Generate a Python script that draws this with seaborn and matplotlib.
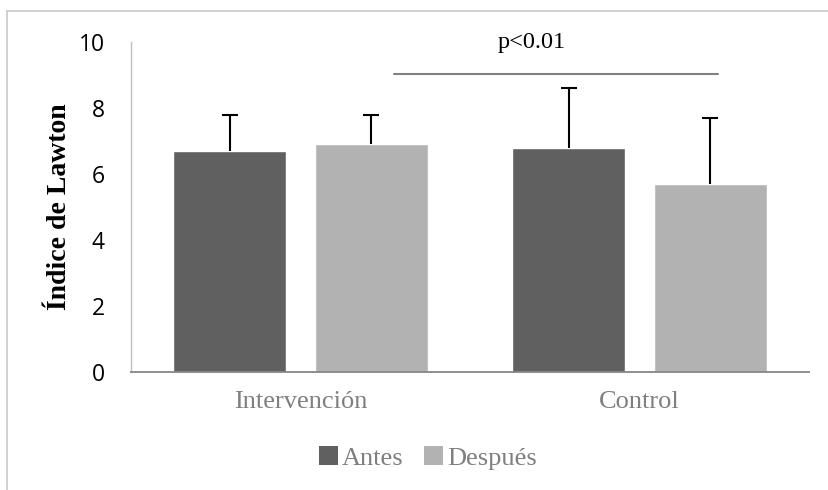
import matplotlib
matplotlib.use("Agg")
import matplotlib.pyplot as plt
from matplotlib.lines import Line2D
from matplotlib.patches import Patch
import seaborn as sns
import pandas as pd
import numpy as np

# Data
groups = ["Intervención", "Control"]
periods = ["Antes", "Después"]
antes_mean = [6.7, 6.8]
despues_mean = [6.9, 5.7]
antes_sd = [1.1, 1.8]
despues_sd = [0.9, 2.0]
y_ticks = [0, 2, 4, 6, 8, 10]
p_label = "p<0.01"

colors = {"Antes": "#606060", "Después": "#b2b2b2"}

df = pd.DataFrame({
    "grupo": groups * 2,
    "periodo": ["Antes"] * 2 + ["Después"] * 2,
    "valor": antes_mean + despues_mean,
    "sd": antes_sd + despues_sd,
})

sns.set_style("white")
plt.rcParams["font.family"] = ["Open Sans", "DejaVu Sans"]

fig = plt.figure(figsize=(8.29, 4.90), dpi=100)
ax = fig.add_axes([131 / 829, 1 - 372 / 490, 678 / 829, 330 / 490])

sns.barplot(data=df, x="grupo", y="valor", hue="periodo", order=groups,
            hue_order=periods, palette=colors, width=0.834, gap=0.2,
            errorbar=None, legend=False, ax=ax, saturation=1)

# upper-only error bars, aligned with each drawn bar
for container, per in zip(ax.containers, periods):
    sub = df[df["periodo"] == per].set_index("grupo").loc[groups]
    xs = [b.get_x() + b.get_width() / 2 for b in container]
    sd = sub["sd"].values
    eb = ax.errorbar(xs, sub["valor"].values, yerr=[np.zeros_like(sd), sd],
                     fmt="none", ecolor="black", elinewidth=1.5, capsize=6,
                     capthick=1.5, zorder=3)
    # hide the cap at the bar top (lower end)
    eb[1][0].set_visible(False)

ax.set_ylim(0, 10)
ax.set_xlim(-0.5, 1.5)
ax.set_yticks(y_ticks)
ax.set_yticklabels([str(t) for t in y_ticks], fontsize=16.5, color="black")
ax.tick_params(axis="y", length=0, pad=19)
ax.tick_params(axis="x", length=0, pad=14)
for lbl in ax.get_xticklabels():
    lbl.set_family("Liberation Serif")
    lbl.set_fontsize(19)
    lbl.set_color("#7f7f7f")
ax.set_xlabel("")
ax.set_ylabel("Índice de Lawton", family="Liberation Serif", fontweight="bold",
              fontsize=20, labelpad=5, color="black")

for s in ["top", "right"]:
    ax.spines[s].set_visible(False)
ax.spines["left"].set_color("#bfbfbf")
ax.spines["left"].set_linewidth(1.0)
ax.spines["bottom"].set_color("#868686")
ax.spines["bottom"].set_linewidth(1.3)

# significance bracket
ax.plot([0.276, 1.232], [9.03, 9.03], color="#808080", lw=1.5,
        clip_on=False)
ax.text(0.683, 9.97, p_label, ha="center", va="center",
        family="Liberation Serif", fontsize=17.5, color="black")

# legend
handles = [Patch(facecolor=colors[p], edgecolor="none", label=p) for p in periods]
fig.legend(handles=handles, loc="center", bbox_to_anchor=(428 / 829, 1 - 458 / 490),
           ncol=2, frameon=False, handlelength=0.7, handleheight=0.7,
           handletextpad=0.15, columnspacing=0.8,
           prop={"family": "Liberation Serif", "size": 19}, labelcolor="#7f7f7f")

# chart frame
fig.add_artist(Line2D([7 / 829, 7 / 829], [0, 1 - 11 / 490], color="#c8c8c8", lw=1.2))
fig.add_artist(Line2D([7 / 829, 1], [1 - 11 / 490, 1 - 11 / 490], color="#c8c8c8", lw=1.2))

fig.savefig("out.png", dpi=100)
